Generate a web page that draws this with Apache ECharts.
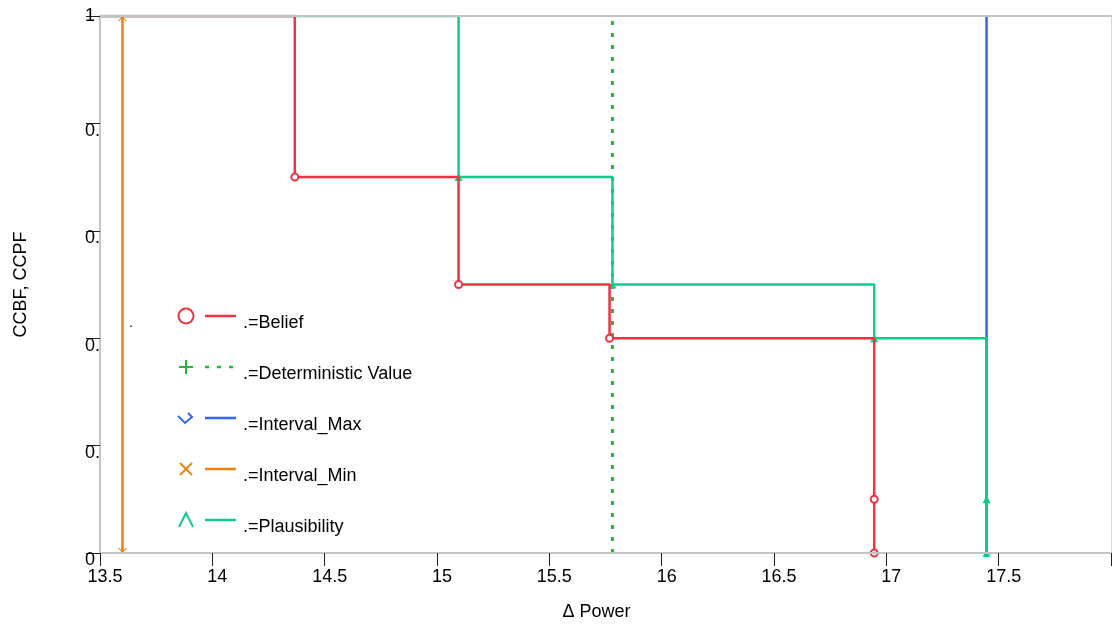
<!DOCTYPE html>
<html>
<head>
<meta charset="utf-8">
<script src="https://cdn.jsdelivr.net/npm/echarts@6/dist/echarts.min.js"></script>
<style>html,body{margin:0;padding:0;background:#fff}#c{width:1112px;height:624px}</style>
</head>
<body>
<div id="c"></div>
<script>
// ---- data ----
const seriesNames = ['Belief', 'Deterministic Value', 'Interval_Max', 'Interval_Min', 'Plausibility'];
const beliefX = [13.5, 14.367, 14.367, 15.096, 15.096, 15.768, 15.768, 16.946, 16.946, 16.946];
const beliefY = [1, 1, 0.7, 0.7, 0.5, 0.5, 0.4, 0.4, 0.1, 0];
const beliefMarkerIdx = [2, 4, 6, 8, 9];
const plausX = [13.5, 15.096, 15.096, 15.781, 15.781, 16.946, 16.946, 17.446, 17.446, 17.446];
const plausY = [1, 1, 0.7, 0.7, 0.5, 0.5, 0.4, 0.4, 0.1, 0];
const plausMarkerIdx = [2, 4, 6, 8, 9];
const detX = [15.781, 15.781];
const detY = [0, 1];
const maxX = [17.446, 17.446];
const maxY = [0, 1];
const minX = [13.6, 13.6];
const minY = [0, 1];
const xTicks = { min: 13.5, max: 18, step: 0.5 };
const yTicks = { min: 0, max: 1, step: 0.2 };
const xTitle = 'Δ Power';
const yTitle = 'CCBF, CCPF';

// ---- styles ----
const C = { belief: '#ee3344', det: '#22bb33', max: '#3366ee', min: '#ee8011', plaus: '#11cc88' };
const FONT = 'Liberation Sans, Arial, sans-serif';
const FS = 18;

function pts(xs, ys, marks, sym) {
  return xs.map((x, i) => ({ value: [x, ys[i]], symbol: marks && marks.includes(i) ? sym : 'none' }));
}

const chart = echarts.init(document.getElementById('c'), null, { renderer: 'canvas' });

// legend as graphics built from series names
const legendColors = [C.belief, C.det, C.max, C.min, C.plaus];
const legendGraphics = [];
seriesNames.forEach((name, i) => {
  const cy = 316 + 51 * i;
  const cx = 186;
  const col = legendColors[i];
  const st = { stroke: col, lineWidth: 2, fill: 'none' };
  if (i === 0) legendGraphics.push({ type: 'circle', shape: { cx, cy, r: 7.5 }, style: st });
  if (i === 1) {
    legendGraphics.push({ type: 'line', shape: { x1: cx - 7, y1: cy, x2: cx + 7, y2: cy }, style: st });
    legendGraphics.push({ type: 'line', shape: { x1: cx, y1: cy - 7, x2: cx, y2: cy + 7 }, style: st });
  }
  if (i === 2) legendGraphics.push({ type: 'polyline', shape: { points: [[cx - 8, cy - 2], [cx - 1, cy + 5], [cx + 6, cy - 1], [cx + 2, cy - 5]] }, style: st });
  if (i === 3) {
    legendGraphics.push({ type: 'line', shape: { x1: cx - 6, y1: cy - 6, x2: cx + 6, y2: cy + 6 }, style: st });
    legendGraphics.push({ type: 'line', shape: { x1: cx + 6, y1: cy - 6, x2: cx - 6, y2: cy + 6 }, style: st });
  }
  if (i === 4) legendGraphics.push({ type: 'polyline', shape: { points: [[cx - 7, cy + 7], [cx, cy - 7], [cx + 7, cy + 7]] }, style: st });
  legendGraphics.push({ type: 'line', shape: { x1: 205, y1: cy, x2: 236, y2: cy },
    style: { stroke: col, lineWidth: 2.5, lineDash: i === 1 ? [4, 8] : null } });
  legendGraphics.push({ type: 'text', left: 243, top: cy - 2,
    style: { text: '.=' + name, font: FS + 'px ' + FONT, fill: '#000' } });
});
legendGraphics.push({ type: 'text', left: 129, top: 315, style: { text: '.', font: '15px ' + FONT, fill: '#000' } });

const axisGray = '#c4c4c4';
const option = {
  animation: false,
  backgroundColor: '#fff',
  grid: { left: 100, right: 1, top: 16, bottom: 71, containLabel: false, outerBoundsMode: 'none' },
  xAxis: [{
    type: 'value', min: xTicks.min, max: xTicks.max, interval: xTicks.step, z: 5,
    name: xTitle, nameLocation: 'middle', nameGap: 50,
    nameTextStyle: { fontFamily: FONT, fontSize: FS, color: '#000', padding: [0, 18, 0, 0] },
    axisLine: { show: true, onZero: false, lineStyle: { color: axisGray, width: 2 } },
    axisTick: { show: true, length: 13, lineStyle: { color: '#222', width: 1 } },
    axisLabel: { fontFamily: FONT, fontSize: FS, color: '#000', margin: 15, padding: [0, 0, 0, 10],
      formatter: v => (Math.abs(v - xTicks.max) < 1e-9 ? '' : String(v)) },
    splitLine: { show: false }
  }, {
    type: 'value', position: 'top', min: xTicks.min, max: xTicks.max, z: 5,
    axisLine: { show: true, onZero: false, lineStyle: { color: axisGray, width: 2 } },
    axisTick: { show: false }, axisLabel: { show: false }, splitLine: { show: false }
  }],
  yAxis: [{
    type: 'value', min: yTicks.min, max: yTicks.max, interval: yTicks.step, z: 5,
    name: yTitle, nameLocation: 'middle', nameGap: 70, nameRotate: 90,
    nameTextStyle: { fontFamily: FONT, fontSize: FS, color: '#000' },
    axisLine: { show: true, onZero: false, lineStyle: { color: axisGray, width: 2 } },
    axisTick: { show: true, length: 14, lineStyle: { color: '#222', width: 1 } },
    axisLabel: { fontFamily: FONT, fontSize: FS, color: '#000', margin: 15, align: 'left', verticalAlign: 'middle',
      formatter: v => (v === 1 ? '{m|1}' : v === 0 ? '{t|0}' : '{t|0.}'),
      rich: { m: { fontFamily: FONT, fontSize: FS, color: '#000' },
              t: { fontFamily: FONT, fontSize: FS, color: '#000', padding: [15, 0, 0, 0] } } },
    splitLine: { show: false }
  }, {
    type: 'value', position: 'right', min: yTicks.min, max: yTicks.max, z: 5,
    axisLine: { show: true, onZero: false, lineStyle: { color: '#d8d8d8', width: 1 } },
    axisTick: { show: false }, axisLabel: { show: false }, splitLine: { show: false }
  }],
  graphic: legendGraphics,
  series: [
    { name: seriesNames[2], type: 'line', data: pts(maxX, maxY), symbol: 'none',
      lineStyle: { color: C.max, width: 2.5 }, z: 1 },
    { name: seriesNames[1], type: 'line', data: pts(detX, detY), symbol: 'none',
      lineStyle: { color: C.det, width: 3, type: [4, 8] }, z: 2 },
    { name: seriesNames[4], type: 'line', data: pts(plausX, plausY, plausMarkerIdx, 'triangle'),
      showAllSymbol: true, symbolSize: 8,
      itemStyle: { color: C.plaus }, lineStyle: { color: C.plaus, width: 2.5 }, z: 3 },
    { name: seriesNames[0], type: 'line', data: pts(beliefX, beliefY, beliefMarkerIdx, 'emptyCircle'),
      showAllSymbol: true, symbolSize: 7,
      itemStyle: { color: C.belief, borderWidth: 2 }, lineStyle: { color: C.belief, width: 2.5 }, z: 4 },
    { name: seriesNames[3], type: 'line', symbol: 'none',
      data: minX.map((x, i) => ({ value: [x, minY[i]],
        symbol: minY[i] === 0 ? 'path://M0,0 L5,10 L10,0 L8.5,0 L5,7 L1.5,0 Z' : 'path://M0,10 L5,0 L10,10 L8.5,10 L5,3 L1.5,10 Z',
        symbolSize: [9, 5], symbolOffset: [0, minY[i] === 0 ? -2.5 : 2.5] })),
      showAllSymbol: true, itemStyle: { color: C.min },
      lineStyle: { color: C.min, width: 2.5 }, z: 4 }
  ]
};
chart.setOption(option);
</script>
</body>
</html>
